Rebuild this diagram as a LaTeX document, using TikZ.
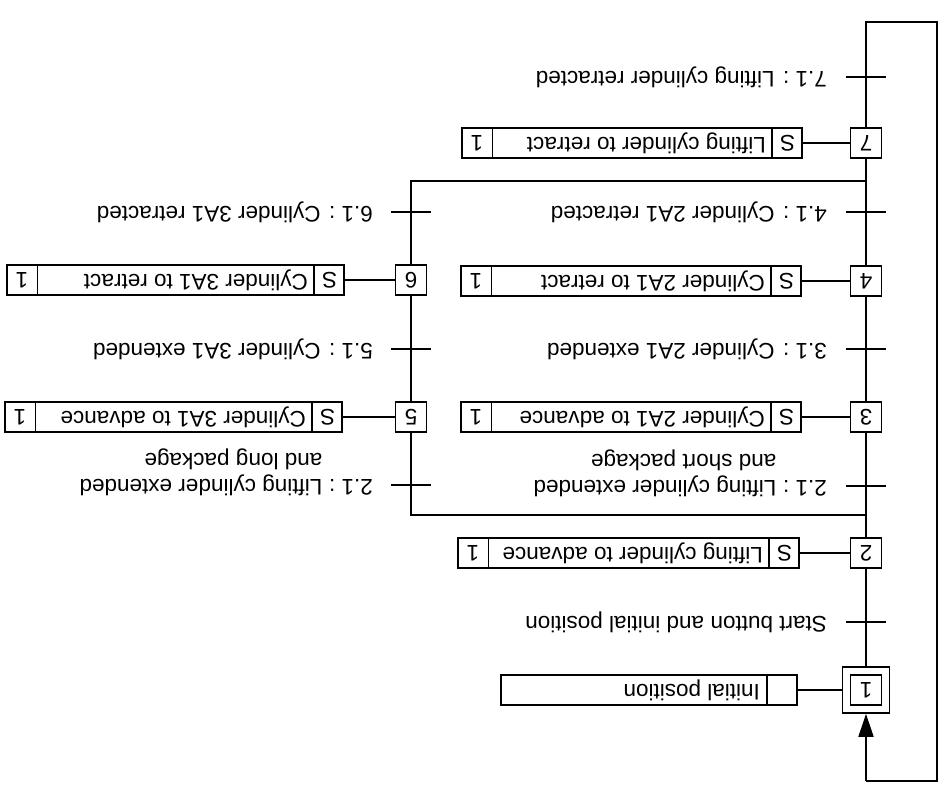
\documentclass[tikz,border=0pt]{standalone}
\usepackage{fontspec}
\setmainfont{Liberation Sans}
\usepackage{graphicx}
\usetikzlibrary{arrows.meta}
\newcommand{\flipt}[1]{\rotatebox[origin=c]{180}{#1}}
\newcommand{\diagfont}{\fontsize{22.5}{26.5}\selectfont}
\begin{document}
\begin{tikzpicture}[x=1pt,y=-1pt,font=\diagfont,
  ln/.style={line width=1.6pt},
  stepbox/.style={draw,line width=1.6pt,minimum width=31pt,minimum height=30pt,inner sep=0pt},
  actbox/.style={draw,line width=1.6pt,minimum height=30pt,inner sep=0pt,anchor=east},
  lbl/.style={inner sep=0pt}]
\useasboundingbox (0,0) rectangle (951,787);

% steps
\node[stepbox] (s1) at (866,690) {\flipt{1}};
\node[stepbox,minimum width=47pt,minimum height=46pt] (s1o) at (866,690) {};
\node[stepbox] (s2) at (866,553) {\flipt{2}};
\node[stepbox] (s3) at (866,417) {\flipt{3}};
\node[stepbox] (s4) at (866,281) {\flipt{4}};
\node[stepbox] (s7) at (866,143) {\flipt{7}};
\node[stepbox] (s5) at (411,417) {\flipt{5}};
\node[stepbox] (s6) at (411,280) {\flipt{6}};

% action of step 1
\node[actbox,minimum width=296pt] (a1) at (798,690) {};
\draw[ln] ([xshift=-31pt]a1.north east) -- ([xshift=-31pt]a1.south east);
\node[lbl,anchor=east] (a1t) at ([xshift=-38pt]a1.east) {\flipt{Initial position}};
\draw[ln] (s1o) -- (a1);

% actions of the other steps
\foreach \n/\ax/\ay/\w/\t in {2/800/553/341/Lifting cylinder to advance,
  3/802/417/340/Cylinder 2A1 to advance,
  4/802/281/340/Cylinder 2A1 to retract,
  7/803/143/340/Lifting cylinder to retract,
  5/343/417/337/Cylinder 3A1 to advance,
  6/345/280/337/Cylinder 3A1 to retract}{
  \node[actbox,minimum width=\w pt] (a\n) at (\ax,\ay) {};
  \draw[ln] ([xshift=-31pt]a\n.north east) -- ([xshift=-31pt]a\n.south east);
  \draw[ln] ([xshift=31pt]a\n.north west) -- ([xshift=31pt]a\n.south west);
  \node[lbl] (a\n s) at ([xshift=-15.5pt]a\n.east) {\flipt{S}};
  \node[lbl] (a\n o) at ([xshift=15.5pt]a\n.west) {\flipt{1}};
  \node[lbl,anchor=east] (a\n t) at ([xshift=-37pt]a\n.east) {\flipt{\t}};
  \draw[ln] (s\n) -- (a\n);
}

% coordinates of the branch lines and return loop
\coordinate (dv) at (866,515);
\coordinate (dvl) at (411,515);
\coordinate (cv) at (866,181);
\coordinate (cvl) at (411,181);
\coordinate (top) at (866,22);
\coordinate (topr) at (937,22);
\coordinate (botr) at (937,781);
\coordinate (bot) at (866,781);

% main chain
\draw[ln] (s1o) -- (s2);
\draw[ln] (s2) -- (s3);
\draw[ln] (s3) -- (s4);
\draw[ln] (s4) -- (s7);
\draw[ln] (dv) -- (dvl) -- (s5);
\draw[ln] (s5) -- (s6);
\draw[ln] (s6) -- (cvl) -- (cv);
\draw[ln] (s7) -- (top) -- (topr) -- (botr) -- (bot);
\draw[ln,-{Triangle[length=23pt,width=15pt]}] (bot) -- (s1o);

% transitions
\coordinate (t1) at (866,622);
\coordinate (t2) at (866,486);
\coordinate (t3) at (866,349);
\coordinate (t4) at (866,212);
\coordinate (t7) at (866,77);
\coordinate (t2b) at (411,485);
\coordinate (t5) at (411,349);
\coordinate (t6) at (411,212);
\foreach \c in {t1,t2,t3,t4,t7,t2b,t5,t6}{
  \draw[ln] ([xshift=-20pt]\c) -- ([xshift=20pt]\c);
}
\node[lbl,anchor=east] (l1) at ([xshift=-39pt]t1) {\flipt{Start button and initial position}};
\node[lbl,anchor=east] (l3) at ([xshift=-39pt]t3) {\flipt{3.1 : Cylinder 2A1 extended}};
\node[lbl,anchor=east] (l4) at ([xshift=-39pt]t4) {\flipt{4.1 : Cylinder 2A1 retracted}};
\node[lbl,anchor=east] (l7) at ([xshift=-39pt]t7) {\flipt{7.1 : Lifting cylinder retracted}};
\node[lbl,anchor=east] (l5) at ([xshift=-38pt]t5) {\flipt{5.1 : Cylinder 3A1 extended}};
\node[lbl,anchor=east] (l6) at ([xshift=-38pt]t6) {\flipt{6.1 : Cylinder 3A1 retracted}};
\node[lbl,anchor=east] (l2) at ([xshift=-39pt,yshift=13pt]t2) {\flipt{\begin{tabular}{@{}l@{}l@{}}2.1 :\hspace{0.3em} & Lifting cylinder extended\\ & and short package\end{tabular}}};
\node[lbl,anchor=east] (l2b) at ([xshift=-38pt,yshift=13pt]t2b) {\flipt{\begin{tabular}{@{}l@{}l@{}}2.1 :\hspace{0.3em} & Lifting cylinder extended\\ & and long package\end{tabular}}};
\end{tikzpicture}
\end{document}
